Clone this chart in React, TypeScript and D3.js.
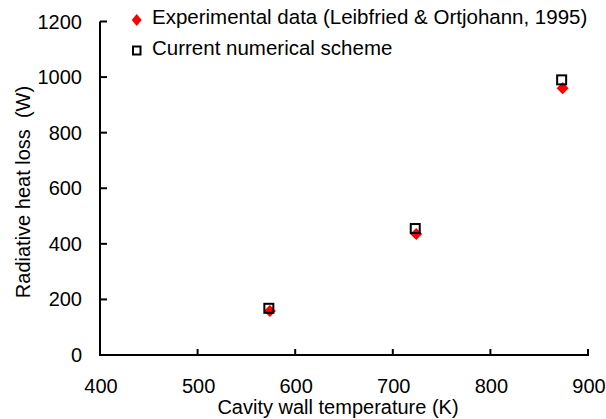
import React from "react";
import * as d3 from "d3";

// Cavity wall temperature (K) and radiative heat loss (W)
const temperatures = [573, 723, 873];
const experimental = [158, 435, 960];
const numerical = [168, 455, 990];
const xTicks = [400, 500, 600, 700, 800, 900];
const yTicks = [0, 200, 400, 600, 800, 1000, 1200];

const W = 606;
const H = 419;
const font = "Liberation Sans, Arial, sans-serif";

export default function App() {
  const x = d3.scaleLinear().domain([400, 900]).range([100, 588]);
  const y = d3.scaleLinear().domain([0, 1200]).range([355, 21.5]);
  const diamond = (cx: number, cy: number, rx: number, ry: number) =>
    `M${cx},${cy - ry}L${cx + rx},${cy}L${cx},${cy + ry}L${cx - rx},${cy}Z`;

  return (
    <svg width={W} height={H} style={{ position: "absolute", left: 0, top: 0 }}>
      <rect width={W} height={H} fill="#fff" />
      {/* axes */}
      <line x1={x(400)} x2={x(400)} y1={y(1200)} y2={y(0) + 1} stroke="#000" strokeWidth={2} />
      <line x1={x(400) - 1} x2={x(900) + 1} y1={y(0)} y2={y(0)} stroke="#000" strokeWidth={2} />
      {yTicks.map((t) => (
        <g key={`y${t}`}>
          <line x1={x(400)} x2={x(400) + 7} y1={y(t)} y2={y(t)} stroke="#000" strokeWidth={2} />
          <text x={82} y={y(t)} dy="0.35em" textAnchor="end" fontFamily={font} fontSize={20}>
            {t}
          </text>
        </g>
      ))}
      {xTicks.map((t) => (
        <g key={`x${t}`}>
          <line x1={x(t)} x2={x(t)} y1={y(0)} y2={y(0) - 6} stroke="#000" strokeWidth={2} />
          <text x={x(t) + 1} y={393} textAnchor="middle" fontFamily={font} fontSize={20}>
            {t}
          </text>
        </g>
      ))}
      <text x={338} y={414} textAnchor="middle" fontFamily={font} fontSize={20}>
        Cavity wall temperature (K)
      </text>
      <text
        transform={`translate(30,${192}) rotate(-90)`}
        textAnchor="middle"
        fontFamily={font}
        fontSize={20}
        style={{ whiteSpace: "pre" }}
      >
        {"Radiative heat loss  (W)"}
      </text>
      {/* data */}
      {temperatures.map((t, i) => (
        <path key={`e${i}`} d={diamond(x(t) + 1, y(experimental[i]), 6, 6)} fill="#ff0000" />
      ))}
      {temperatures.map((t, i) => (
        <rect
          key={`n${i}`}
          x={x(t) - 4.5}
          y={y(numerical[i]) - 4.5}
          width={9}
          height={9}
          fill="none"
          stroke="#000"
          strokeWidth={2}
        />
      ))}
      {/* legend */}
      <path d={diamond(136.7, 20, 5, 6)} fill="#ff0000" />
      <text x={152} y={24} fontFamily={font} fontSize={20.5}>
        Experimental data (Leibfried &amp; Ortjohann, 1995)
      </text>
      <rect x={133} y={46.5} width={7.5} height={8} fill="none" stroke="#000" strokeWidth={2} />
      <text x={152} y={55} fontFamily={font} fontSize={20.5}>
        Current numerical scheme
      </text>
    </svg>
  );
}
